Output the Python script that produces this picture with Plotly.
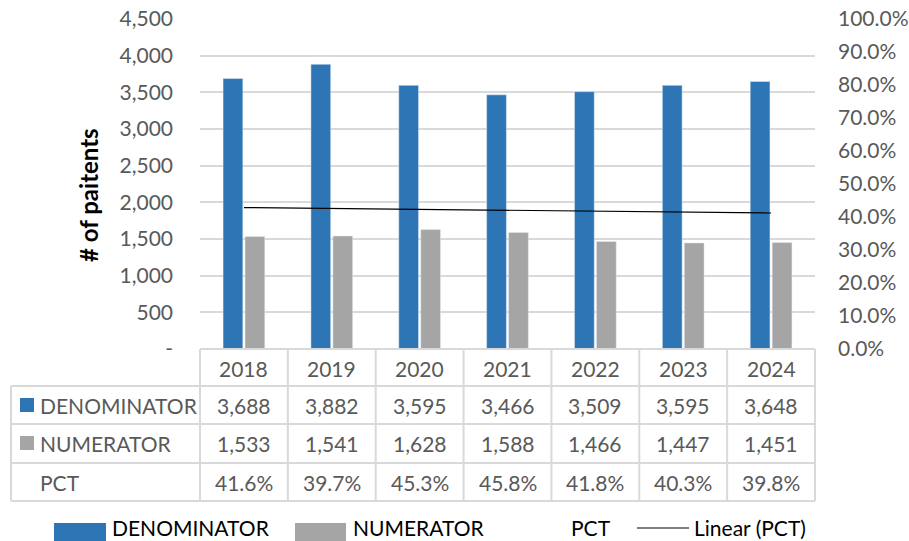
import numpy as np
import plotly.graph_objects as go

years = ["2018", "2019", "2020", "2021", "2022", "2023", "2024"]
denominator = [3688, 3882, 3595, 3466, 3509, 3595, 3648]
numerator = [1533, 1541, 1628, 1588, 1466, 1447, 1451]
pct = [0.416, 0.397, 0.453, 0.458, 0.418, 0.403, 0.398]

left_ticks = [0, 500, 1000, 1500, 2000, 2500, 3000, 3500, 4000, 4500]
left_ticktext = ["-"] + [f"{v:,}" for v in left_ticks[1:]]

BLUE = "#2E75B6"
GREY = "#A5A5A5"
TXT = "#595959"
LINE = "#D9D9D9"
FONT = "Lato"

W, H = 909, 541
L, R, T, B = 200, 94, 19, 192
PW = W - L - R
PH = H - T - B

def px(xp):
    return (xp - L) / PW

def py(yp):
    return (H - B - yp) / PH

# linear trendline of PCT
idx = np.arange(1, len(years) + 1)
slope, intercept = np.polyfit(idx, pct, 1)
trend = slope * idx + intercept

fig = go.Figure()
fig.add_trace(go.Bar(x=years, y=denominator, name="DENOMINATOR", marker_color=BLUE))
fig.add_trace(go.Bar(x=years, y=numerator, name="NUMERATOR", marker_color=GREY))
fig.add_trace(go.Scatter(x=years, y=pct, name="PCT", mode="lines",
                         line=dict(width=0, color="rgba(0,0,0,0)"), yaxis="y2",
                         hoverinfo="skip"))
fig.add_trace(go.Scatter(x=years, y=trend, name="Linear (PCT)", mode="lines",
                         line=dict(width=1.2, color="black"), yaxis="y2"))

fig.update_layout(
    width=W, height=H,
    margin=dict(l=L, r=R, t=T, b=B, autoexpand=False),
    paper_bgcolor="white", plot_bgcolor="white",
    showlegend=False,
    barmode="group", bargap=0.5, bargroupgap=0.1,
    font=dict(family=FONT, size=21, color=TXT),
    xaxis=dict(type="category", showticklabels=False, showgrid=False,
               showline=False, zeroline=False, ticks="", automargin=False),
    yaxis=dict(range=[0, 4500], tickvals=left_ticks, ticktext=left_ticktext,
               showgrid=True, gridcolor=LINE, gridwidth=1.5, zeroline=False,
               showline=False, ticks="", ticklabelstandoff=26, automargin=False,
               tickfont=dict(family=FONT, size=21, color=TXT)),
    yaxis2=dict(range=[0, 1], overlaying="y", side="right", tickformat=".1%",
                dtick=0.1, showgrid=False, zeroline=False, showline=False,
                ticks="", ticklabelstandoff=22, automargin=False,
                tickfont=dict(family=FONT, size=21, color=TXT)),
)

shapes = []
ann = []

def add_text(xp, yp, text, color=TXT, xanchor="left", size=21, **kw):
    ann.append(dict(xref="paper", yref="paper", x=xp, y=py(yp), text=text,
                    showarrow=False, xanchor=xanchor, yanchor="middle",
                    font=dict(family=FONT, size=size, color=color), **kw))

# y-axis title
add_text(px(88), 195, "<b># of paitents</b>", color="black", xanchor="center",
         size=24, textangle=-90)

# data table
row_lines = [349, 386, 424, 463, 501]
line_style = dict(color=LINE, width=2)
shapes.append(dict(type="line", xref="paper", yref="paper", x0=0, x1=1,
                   y0=py(row_lines[0]), y1=py(row_lines[0]), line=line_style))
for yl in row_lines[1:]:
    shapes.append(dict(type="line", xref="paper", yref="paper", x0=px(11), x1=1,
                       y0=py(yl), y1=py(yl), line=line_style))
shapes.append(dict(type="line", xref="paper", yref="paper", x0=px(11), x1=px(11),
                   y0=py(386), y1=py(501), line=line_style))
n = len(years)
for i in range(n + 1):
    xf = i / n
    shapes.append(dict(type="line", xref="paper", yref="paper", x0=xf, x1=xf,
                       y0=py(349), y1=py(501), line=line_style))

row_y = [368, 405, 443, 482]
rows = [years,
        [f"{v:,}" for v in denominator],
        [f"{v:,}" for v in numerator],
        [f"{v*100:.1f}%" for v in pct]]
for r, vals in enumerate(rows):
    for i, v in enumerate(vals):
        add_text((i + 0.5) / n, row_y[r], v, xanchor="center")

labels = ["DENOMINATOR", "NUMERATOR", "PCT"]
keys = [BLUE, GREY, None]
for r, (lab, col) in enumerate(zip(labels, keys)):
    yc = row_y[r + 1]
    if col:
        shapes.append(dict(type="rect", xref="paper", yref="paper", x0=px(20), x1=px(34),
                           y0=py(yc + 7), y1=py(yc - 7), fillcolor=col, line=dict(width=0)))
    add_text(px(38), yc, lab)

# bottom legend
ly = 527
shapes.append(dict(type="rect", xref="paper", yref="paper", x0=px(54), x1=px(106),
                   y0=py(546), y1=py(523), fillcolor=BLUE, line=dict(width=0)))
add_text(px(110), ly, "DENOMINATOR", color="black")
shapes.append(dict(type="rect", xref="paper", yref="paper", x0=px(295), x1=px(346),
                   y0=py(546), y1=py(523), fillcolor=GREY, line=dict(width=0)))
add_text(px(351), ly, "NUMERATOR", color="black")
add_text(px(569), ly, "PCT", color="black")
shapes.append(dict(type="line", xref="paper", yref="paper", x0=px(637), x1=px(689),
                   y0=py(528), y1=py(528), line=dict(color="black", width=1.2)))
add_text(px(692), ly, "Linear (PCT)", color="black")

fig.update_layout(shapes=shapes, annotations=ann)
fig.write_html("out.html", config={"displayModeBar": False},
               post_script="document.body.style.margin='0px';document.body.style.overflow='hidden';")
